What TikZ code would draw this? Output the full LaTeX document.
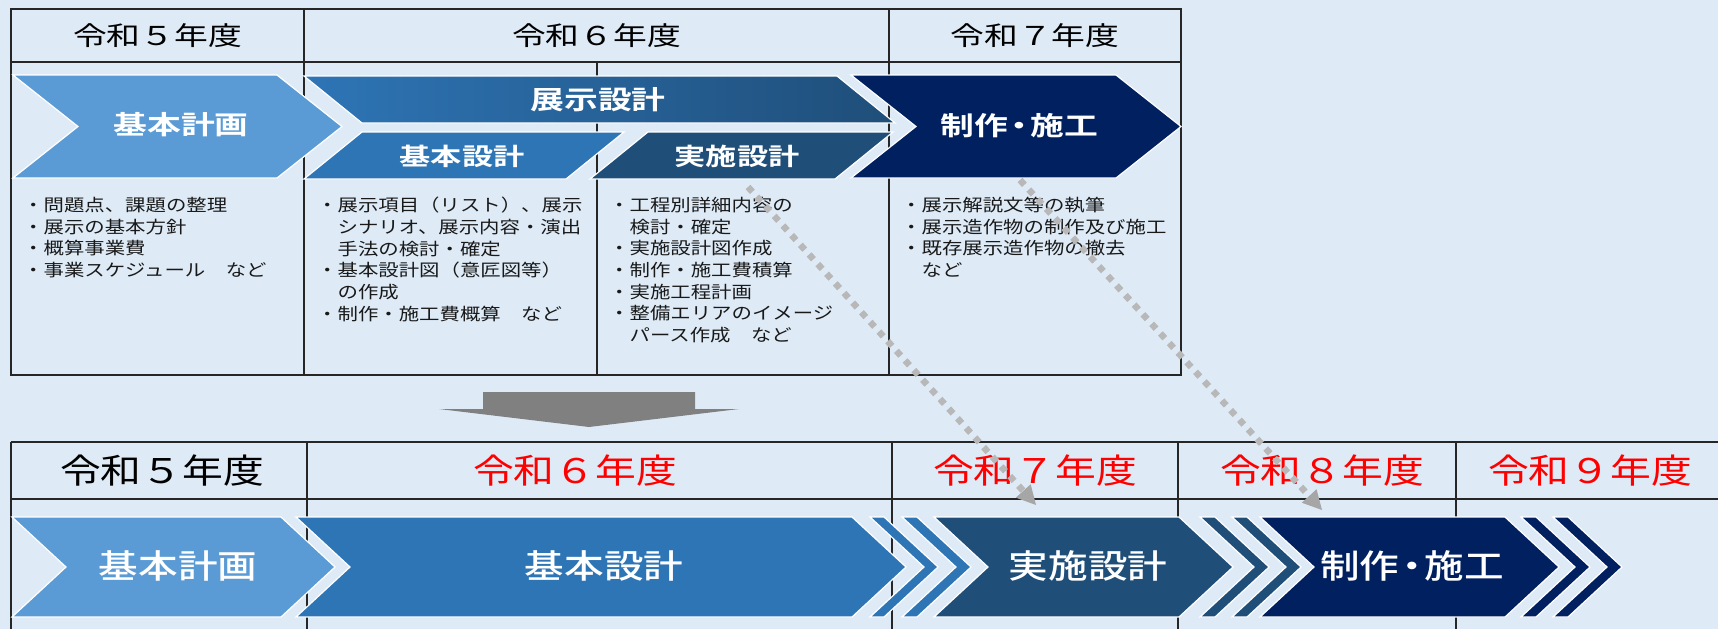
\documentclass[tikz,border=0pt]{standalone}
\usepackage{fontspec}
\newfontfamily\jpT{Noto Sans CJK JP}[FakeStretch=1.3,BoldFont={Noto Sans CJK JP Bold}]
\newfontfamily\jpL{Noto Sans CJK JP}[FakeStretch=1.2]
\newfontfamily\jpM{Noto Sans CJK JP Medium}[FakeStretch=1.2]
\usetikzlibrary{arrows.meta}
\definecolor{bg}{HTML}{DEEBF7}
\definecolor{cA}{HTML}{5B9BD5}
\definecolor{cB}{HTML}{2E75B6}
\definecolor{cC}{HTML}{1F4E79}
\definecolor{cD}{HTML}{002060}
\definecolor{dotgray}{HTML}{B8B8B8}
\definecolor{arrgray}{HTML}{808080}
\definecolor{red1}{HTML}{FF0000}
\tikzset{
  tbl/.style={draw=black!85, line width=1.4pt},
  chev/.style n args={5}{insert path={(#1,#3) -- ({#1+#2},#3) -- ({#1+#2+#5},{(#3+#4)/2}) -- ({#1+#2},#4) -- (#1,#4) -- ({#1+#5},{(#3+#4)/2}) -- cycle}},
  shp/.style={draw=white, line width=1.2pt, line join=miter},
  hdrT/.style={font=\jpT\fontsize{26}{30}\selectfont, inner sep=0pt, text=black},
  hdrB/.style={font=\jpL\fontsize{34}{40}\selectfont, inner sep=0pt},
  ctT/.style={font=\jpT\bfseries\fontsize{26}{30}\selectfont, inner sep=0pt, text=white},
  ctS/.style={font=\jpT\bfseries\fontsize{24}{28}\selectfont, inner sep=0pt, text=white},
  ctB/.style={font=\jpM\fontsize{33}{38}\selectfont, inner sep=0pt, text=white},
  blt/.style={font=\jpL\fontsize{17}{21.67}\selectfont, align=left, anchor=north west, inner sep=0pt, text=black!90},
  dotline/.style={draw=dotgray, line width=6.5pt, dash pattern=on 6.5pt off 6.5pt, -{Triangle[length=19pt,width=20pt,line width=0pt,fill=dotgray!90!black]}},
}
\begin{document}
\begin{tikzpicture}[x=1pt,y=-1pt]
\fill[bg] (0,0) rectangle (1718,629);
\useasboundingbox (0,0) rectangle (1718,629);

% ---------- top table ----------
\draw[tbl] (11,9) rectangle (1181,375);
\draw[tbl] (11,62) -- (1181,62);
\draw[tbl] (304,9) -- (304,375);
\draw[tbl] (889,9) -- (889,375);
\draw[tbl] (597,62) -- (597,375);

\node[hdrT] (t5) at (157.5,35.5) {令和５年度};
\node[hdrT] (t6) at (596.5,35.5) {令和６年度};
\node[hdrT] (t7) at (1035,35.5) {令和７年度};

% top chevrons
\path[shp, fill=cA] [chev={13}{264}{75}{178}{65}];
\path[shp, left color=cB, right color=cC] (304,76) -- (837,76) -- (895,123) -- (362,123) -- cycle;
\path[shp, fill=cB] (304,179) -- (362,132) -- (624,132) -- (566,179) -- cycle;
\path[shp, fill=cC] (590,179) -- (648,132) -- (893,132) -- (835,179) -- cycle;
\path[shp, fill=cD] [chev={851}{265}{75}{178}{65}];

\node[ctT] (kk1) at (181,125) {基本計画};
\node[ctT] (ts) at (598,100) {展示設計};
\node[ctS] (ks1) at (462,156) {基本設計};
\node[ctS] (js1) at (737,156) {実施設計};
\node[ctT] (ss1) at (1019,126) {制作\kern-.22em・\kern-.22em施工};

% bullets
\node[blt] (b1) at (23,197) {・問題点、課題の整理\\・展示の基本方針\\・概算事業費\\・事業スケジュール　など};
\node[blt] (b2) at (317,197) {・展示項目（リスト）、展示\\　シナリオ、展示内容・演出\\　手法の検討・確定\\・基本設計図（意匠図等）\\　の作成\\・制作・施工費概算　など};
\node[blt] (b3) at (609,197) {・工程別詳細内容の\\　検討・確定\\・実施設計図作成\\・制作・施工費積算\\・実施工程計画\\・整備エリアのイメージ\\　パース作成　など};
\node[blt] (b4) at (901,197) {・展示解説文等の執筆\\・展示造作物の制作及び施工\\・既存展示造作物の撤去\\　など};

% big gray arrow
\fill[arrgray] (483,392) -- (695,392) -- (695,409) -- (739,409) -- (589,427) -- (439,409) -- (483,409) -- cycle;

% ---------- bottom table ----------
\draw[tbl] (11,442) -- (1718,442);
\draw[tbl] (11,499) -- (1718,499);
\foreach \xx in {11,307,892,1178,1456} {\draw[tbl] (\xx,442) -- (\xx,629);}

\node[hdrB, text=black] (u5) at (162,471) {令和５年度};
\node[hdrB, text=red1] (u6) at (575,471) {令和６年度};
\node[hdrB, text=red1] (u7) at (1035,471) {令和７年度};
\node[hdrB, text=red1] (u8) at (1322,471) {令和８年度};
\node[hdrB, text=red1] (u9) at (1590,471) {令和９年度};

% bottom chevrons
\path[shp, fill=cA] [chev={12}{269}{517}{617}{54}];
\path[shp, fill=cB] [chev={296}{556}{517}{617}{54}];
\path[shp, fill=cB] [chev={870}{14}{517}{617}{54}];
\path[shp, fill=cB] [chev={902}{15}{517}{617}{54}];
\path[shp, fill=cC] [chev={934}{245}{517}{617}{54}];
\path[shp, fill=cC] [chev={1200}{15}{517}{617}{54}];
\path[shp, fill=cC] [chev={1232}{15}{517}{617}{54}];
\path[shp, fill=cD] [chev={1260}{245}{517}{617}{54}];
\path[shp, fill=cD] [chev={1521}{15}{517}{617}{54}];
\path[shp, fill=cD] [chev={1553}{15}{517}{617}{54}];

\node[ctB] (kk2) at (178,566) {基本計画};
\node[ctB] (ks2) at (604,566) {基本設計};
\node[ctB] (js2) at (1088,566) {実施設計};
\node[ctB] (ss2) at (1412,566) {制作\kern-.22em・\kern-.22em施工};

% dotted arrows
\coordinate (dA0) at (748,187);
\coordinate (dA1) at (1036,505);
\coordinate (dB0) at (1020,180);
\coordinate (dB1) at (1322,510);
\draw[dotline] (dA0) -- (dA1);
\draw[dotline] (dB0) -- (dB1);
\end{tikzpicture}
\end{document}
